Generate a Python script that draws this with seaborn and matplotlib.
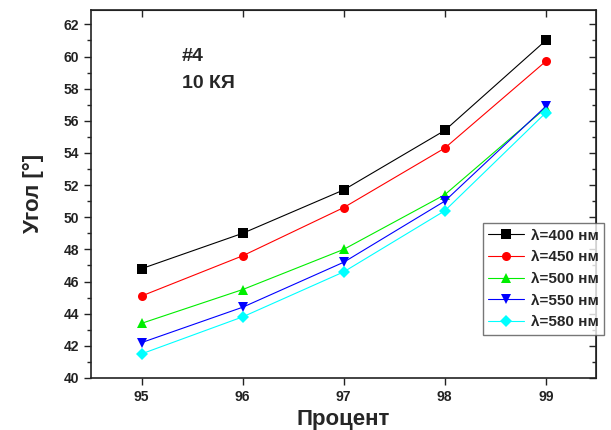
import numpy as np
import pandas as pd
import matplotlib
matplotlib.use('Agg')
import matplotlib.pyplot as plt
from matplotlib.ticker import MultipleLocator, NullFormatter
import seaborn as sns

# данные
percent = [95, 96, 97, 98, 99]
angle_400 = [46.8, 49.0, 51.7, 55.4, 61.0]
angle_450 = [45.1, 47.6, 50.6, 54.3, 59.7]
angle_500 = [43.4, 45.5, 48.0, 51.4, 56.8]
angle_550 = [42.2, 44.4, 47.2, 51.0, 56.9]
angle_580 = [41.5, 43.8, 46.6, 50.4, 56.5]
labels = ['λ=400 нм', 'λ=450 нм', 'λ=500 нм', 'λ=550 нм', 'λ=580 нм']

series = [angle_400, angle_450, angle_500, angle_550, angle_580]
df = pd.DataFrame({
    'Процент': percent * len(labels),
    'Угол': sum(series, []),
    'lam': np.repeat(labels, len(percent)),
})

sns.set_style('ticks')
plt.rcParams['font.family'] = ['Liberation Sans', 'DejaVu Sans']

colors = ['black', 'red', '#00ee00', 'blue', 'cyan']
markers = ['s', 'o', '^', 'v', 'D']

fig = plt.figure(figsize=(6.11, 4.30), dpi=100)
ax = fig.add_axes([0.149, 0.121, 0.827, 0.856])

sns.lineplot(data=df, x='Процент', y='Угол', hue='lam', style='lam',
             palette=colors, markers=markers, dashes=False,
             markersize=6.5, linewidth=0.8, markeredgewidth=0, ax=ax)

ax.set_xlim(94.5, 99.5)
ax.set_ylim(40, 62.9)
ax.xaxis.set_major_locator(MultipleLocator(1))
ax.yaxis.set_major_locator(MultipleLocator(2))
ax.yaxis.set_minor_locator(MultipleLocator(1))
ax.tick_params(axis='both', which='major', labelsize=10, width=1, length=5,
               direction='out', colors='#222222')
ax.tick_params(axis='y', which='minor', width=1, length=3, direction='out')
for lab in ax.get_xticklabels() + ax.get_yticklabels():
    lab.set_fontweight('bold')
for s in ax.spines.values():
    s.set_linewidth(1.2)
    s.set_color('#222222')

# верхняя и правая оси — засечки внутрь
top = ax.secondary_xaxis('top')
top.xaxis.set_major_locator(MultipleLocator(1))
top.xaxis.set_major_formatter(NullFormatter())
top.tick_params(direction='in', length=5, width=1)
right = ax.secondary_yaxis('right')
right.yaxis.set_major_locator(MultipleLocator(2))
right.yaxis.set_minor_locator(MultipleLocator(1))
right.yaxis.set_major_formatter(NullFormatter())
right.tick_params(which='major', direction='in', length=5, width=1)
right.tick_params(which='minor', direction='in', length=3, width=1)

ax.set_xlabel('Процент', fontsize=16, fontweight='bold', labelpad=4)
ax.set_ylabel('Угол [°]', fontsize=16, fontweight='bold', labelpad=14)

ax.text(95.4, 60.0, '#4', fontsize=14, fontweight='bold', va='center')
ax.text(95.4, 58.3, '10 КЯ', fontsize=14, fontweight='bold', va='center')

leg = ax.legend(loc='upper left', bbox_to_anchor=(0.776, 0.42), frameon=True,
                fancybox=False, edgecolor='#555555',
                prop={'weight': 'bold', 'size': 11}, handlelength=2.3,
                handletextpad=0.5, borderaxespad=0, labelspacing=0.5,
                borderpad=0.35)
leg.get_frame().set_linewidth(1.0)

fig.savefig('out.png', dpi=100)
